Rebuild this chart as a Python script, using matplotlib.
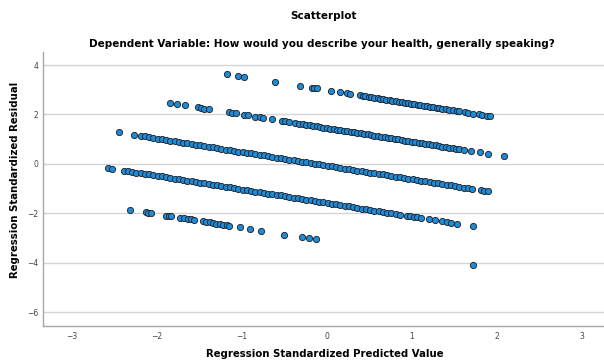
"""Residual scatterplot (SPSS style): standardized residual vs standardized predicted value."""
import numpy as np
import matplotlib
matplotlib.use("Agg")
import matplotlib.pyplot as plt

# points, one list pair per response band (top to bottom)
band_a_x = [-1.18, -1.05, -0.98, -0.61, -0.31, -0.18, -0.15, -0.12, 0.05, 0.15, 0.24, 0.27,
            0.39, 0.42, 0.45, 0.49, 0.52, 0.56, 0.60, 0.63, 0.66, 0.70, 0.74, 0.77, 0.81,
            0.85, 0.88, 0.92, 0.96, 0.99, 1.03, 1.07, 1.10, 1.14, 1.18, 1.21, 1.25, 1.29,
            1.32, 1.36, 1.40, 1.44, 1.48, 1.53, 1.56, 1.62, 1.66, 1.72, 1.79, 1.83, 1.88, 1.92]
band_a_y = [3.63, 3.56, 3.52, 3.32, 3.15, 3.08, 3.06, 3.05, 2.95, 2.90, 2.85, 2.83,
            2.77, 2.75, 2.73, 2.71, 2.69, 2.67, 2.65, 2.63, 2.62, 2.60, 2.57, 2.56, 2.53,
            2.51, 2.50, 2.47, 2.45, 2.44, 2.41, 2.39, 2.38, 2.35, 2.33, 2.31, 2.29, 2.27,
            2.25, 2.23, 2.21, 2.19, 2.17, 2.14, 2.12, 2.09, 2.07, 2.03, 2.00, 1.97, 1.95, 1.92]

band_b_x = [-1.84, -1.76, -1.67, -1.52, -1.48, -1.44, -1.39, -1.15, -1.12, -1.07, -0.98, -0.93,
            -0.84, -0.79, -0.75, -0.64, -0.53, -0.49, -0.44, -0.38, -0.33, -0.28, -0.24,
            -0.20, -0.16, -0.12, -0.08, -0.04, 0.00, 0.04, 0.08, 0.12, 0.16, 0.20, 0.24,
            0.28, 0.32, 0.36, 0.40, 0.44, 0.48, 0.52, 0.56, 0.60, 0.64, 0.68, 0.72, 0.76,
            0.80, 0.84, 0.88, 0.92, 0.96, 1.00, 1.04, 1.08, 1.12, 1.16, 1.20, 1.24, 1.28,
            1.32, 1.36, 1.40, 1.44, 1.48, 1.52, 1.56, 1.61, 1.70, 1.80, 1.90, 2.08]
band_b_y = [2.46, 2.42, 2.37, 2.29, 2.26, 2.24, 2.21, 2.08, 2.07, 2.04, 1.99, 1.96,
            1.91, 1.88, 1.86, 1.80, 1.74, 1.72, 1.69, 1.66, 1.63, 1.60, 1.58,
            1.56, 1.54, 1.52, 1.49, 1.47, 1.45, 1.43, 1.41, 1.38, 1.36, 1.34, 1.32,
            1.30, 1.27, 1.25, 1.23, 1.21, 1.19, 1.16, 1.14, 1.12, 1.10, 1.08, 1.05, 1.03,
            1.01, 0.99, 0.97, 0.94, 0.92, 0.90, 0.88, 0.86, 0.83, 0.81, 0.79, 0.77, 0.75,
            0.72, 0.70, 0.68, 0.66, 0.64, 0.61, 0.59, 0.56, 0.52, 0.46, 0.41, 0.31]

band_c_x = [-2.44, -2.27, -2.19, -2.14, -2.09, -2.04, -1.99, -1.94, -1.89, -1.84, -1.79, -1.74,
            -1.69, -1.64, -1.59, -1.54, -1.49, -1.44, -1.39, -1.34, -1.29, -1.24, -1.19,
            -1.14, -1.09, -1.04, -0.99, -0.94, -0.89, -0.84, -0.79, -0.74, -0.69, -0.64,
            -0.59, -0.54, -0.49, -0.44, -0.39, -0.34, -0.29, -0.24, -0.19, -0.14, -0.09,
            -0.04, 0.01, 0.06, 0.11, 0.16, 0.21, 0.26, 0.31, 0.36, 0.41, 0.46, 0.51, 0.56,
            0.61, 0.66, 0.71, 0.76, 0.81, 0.86, 0.91, 0.96, 1.01, 1.06, 1.11, 1.16, 1.21,
            1.26, 1.31, 1.36, 1.41, 1.46, 1.51, 1.56, 1.61, 1.66, 1.71, 1.81, 1.85, 1.89]
band_c_y = [1.27, 1.18, 1.13, 1.11, 1.08, 1.05, 1.02, 1.00, 0.97, 0.94, 0.91, 0.89,
            0.86, 0.83, 0.80, 0.78, 0.75, 0.72, 0.69, 0.67, 0.64, 0.61, 0.58,
            0.56, 0.53, 0.50, 0.47, 0.45, 0.42, 0.39, 0.36, 0.34, 0.31, 0.28,
            0.25, 0.23, 0.20, 0.17, 0.14, 0.12, 0.09, 0.06, 0.03, 0.01, -0.02,
            -0.05, -0.08, -0.10, -0.13, -0.16, -0.19, -0.21, -0.24, -0.27, -0.30, -0.32, -0.35, -0.38,
            -0.41, -0.43, -0.46, -0.49, -0.52, -0.54, -0.57, -0.60, -0.63, -0.65, -0.68, -0.71, -0.74,
            -0.76, -0.79, -0.82, -0.85, -0.87, -0.90, -0.93, -0.96, -0.98, -1.01, -1.07, -1.09, -1.11]

band_d_x = [-2.57, -2.53, -2.39, -2.34, -2.29, -2.24, -2.19, -2.14, -2.09, -2.04, -1.99, -1.94,
            -1.89, -1.84, -1.79, -1.74, -1.69, -1.64, -1.59, -1.54, -1.49, -1.44, -1.39,
            -1.34, -1.29, -1.24, -1.19, -1.14, -1.09, -1.04, -0.99, -0.94, -0.89, -0.84,
            -0.79, -0.74, -0.69, -0.64, -0.59, -0.54, -0.49, -0.44, -0.39, -0.34, -0.29,
            -0.24, -0.19, -0.14, -0.09, -0.04, 0.01, 0.06, 0.11, 0.16, 0.21, 0.26, 0.31,
            0.36, 0.41, 0.46, 0.51, 0.56, 0.61, 0.66, 0.71, 0.76, 0.81, 0.86,
            0.94, 0.98, 1.02, 1.06, 1.11, 1.20, 1.27, 1.36, 1.41, 1.46, 1.53, 1.72]
band_d_y = [-0.17, -0.19, -0.27, -0.29, -0.32, -0.35, -0.38, -0.40, -0.43, -0.46, -0.49, -0.51,
            -0.54, -0.57, -0.60, -0.62, -0.65, -0.68, -0.71, -0.73, -0.76, -0.79, -0.82,
            -0.84, -0.87, -0.90, -0.93, -0.95, -0.98, -1.01, -1.04, -1.06, -1.09, -1.12,
            -1.15, -1.17, -1.20, -1.23, -1.26, -1.28, -1.31, -1.34, -1.37, -1.39, -1.42,
            -1.45, -1.48, -1.50, -1.53, -1.56, -1.59, -1.61, -1.64, -1.67, -1.70, -1.72, -1.75,
            -1.78, -1.81, -1.83, -1.86, -1.89, -1.92, -1.94, -1.97, -2.00, -2.03, -2.05,
            -2.10, -2.12, -2.14, -2.16, -2.19, -2.24, -2.28, -2.33, -2.36, -2.38, -2.42, -2.53]

band_e_x = [-2.32, -2.13, -2.10, -2.07, -1.89, -1.86, -1.83, -1.73, -1.68, -1.63, -1.60, -1.56,
            -1.46, -1.42, -1.38, -1.34, -1.30, -1.26, -1.22, -1.18, -1.15, -1.02, -0.90,
            -0.78, -0.50, -0.29, -0.21, -0.13, 1.72]
band_e_y = [-1.85, -1.96, -1.98, -1.99, -2.09, -2.11, -2.12, -2.18, -2.21, -2.23, -2.25, -2.27,
            -2.33, -2.35, -2.37, -2.39, -2.42, -2.44, -2.46, -2.48, -2.50, -2.57, -2.64,
            -2.70, -2.86, -2.97, -3.01, -3.06, -4.08]

x_ticks = [-3, -2, -1, 0, 1, 2, 3]
y_ticks = [-6, -4, -2, 0, 2, 4]

pred = np.concatenate([band_a_x, band_b_x, band_c_x, band_d_x, band_e_x])
resid = np.concatenate([band_a_y, band_b_y, band_c_y, band_d_y, band_e_y])

fig = plt.figure(figsize=(6.04, 3.63), dpi=100)
ax = fig.add_axes([0.071, 0.102, 0.929, 0.755])

ax.scatter(pred, resid, s=20, c="#1f8ad6", edgecolors="#1c2530", linewidths=0.65, zorder=3)

ax.set_xlim(-3.34, 3.26)
ax.set_ylim(-6.56, 4.53)
ax.set_xticks(x_ticks)
ax.set_yticks(y_ticks)
ax.tick_params(axis="both", length=0, labelsize=5.5, labelcolor="#444444")
ax.tick_params(axis="x", pad=4)
ax.tick_params(axis="y", pad=3.5)
ax.yaxis.grid(True, color="#d4d4d4", lw=1.0)
ax.set_axisbelow(True)
for side in ["top", "right"]:
    ax.spines[side].set_visible(False)
for side in ["left", "bottom"]:
    ax.spines[side].set_color("#a8a8a8")
    ax.spines[side].set_linewidth(1.0)

# axis titles placed in figure coords to match the reference layout
fig.text(0.538, 0.024, "Regression Standardized Predicted Value", ha="center", va="center",
         fontsize=7.3, fontweight="bold")
fig.text(0.025, 0.504, "Regression Standardized Residual", ha="center", va="center",
         rotation=90, fontsize=7.3, fontweight="bold")

fig.text(0.535, 0.955, "Scatterplot", ha="center", va="center", fontsize=7.5, fontweight="bold")
fig.text(0.533, 0.878, "Dependent Variable: How would you describe your health, generally speaking?",
         ha="center", va="center", fontsize=7.5, fontweight="bold")

fig.savefig("out.png", dpi=100)
